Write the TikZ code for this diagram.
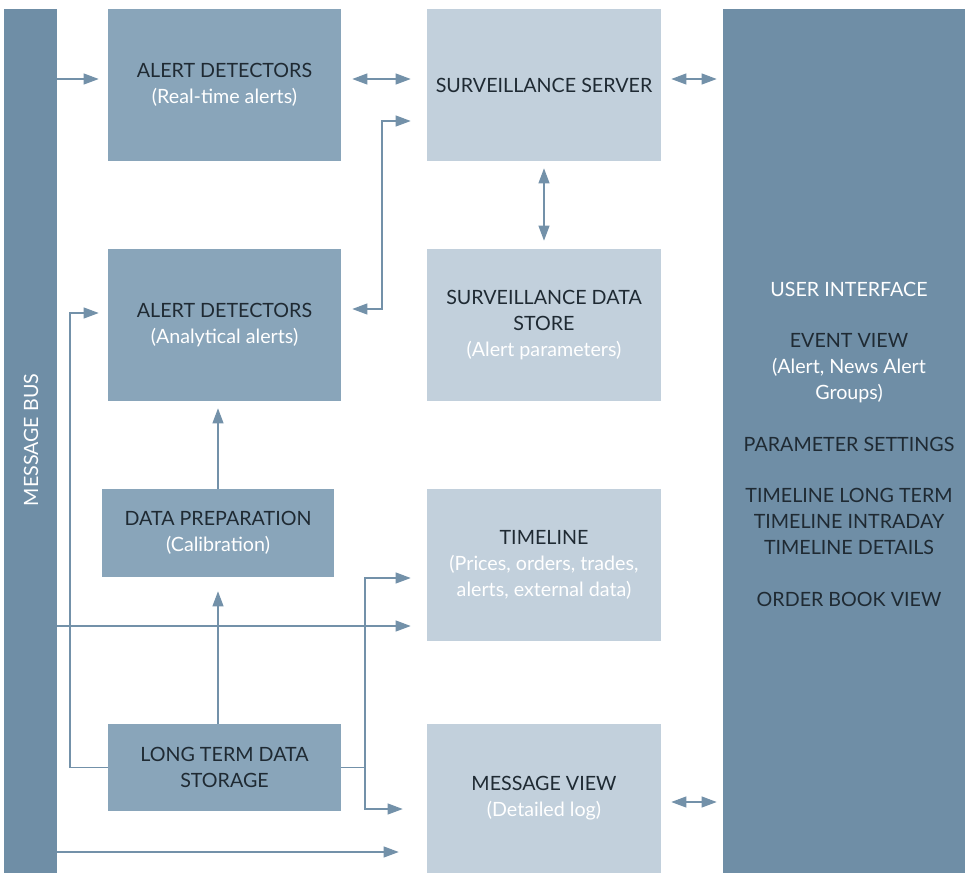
\documentclass[tikz,border=0pt]{standalone}
\usepackage{fontspec}
\setmainfont{Lato}
\usetikzlibrary{arrows.meta}
\definecolor{busblue}{HTML}{6F8EA6}
\definecolor{midblue}{HTML}{89A5BA}
\definecolor{paleblue}{HTML}{C2D0DC}
\definecolor{linkblue}{HTML}{7391A9}
\definecolor{inkdark}{HTML}{1F2A33}
\newcommand{\subline}[1]{\textcolor{white}{#1}}
\tikzset{
  boxtext/.style={align=center, text=inkdark, inner sep=0pt,
    font=\fontsize{11.2}{14.7}\selectfont},
  midbox/.style={boxtext, fill=midblue, minimum width=4.66cm, minimum height=3.04cm},
  palebox/.style={boxtext, fill=paleblue, minimum width=4.68cm, minimum height=3.04cm},
  arr/.style={draw=linkblue, line width=0.6pt,
    -{Triangle[length=0.3cm, width=0.22cm]}},
  biarr/.style={arr, {Triangle[length=0.3cm, width=0.22cm]}-{Triangle[length=0.3cm, width=0.22cm]}},
}
\begin{document}
\begin{tikzpicture}[x=0.02cm, y=-0.02cm]
  \useasboundingbox (0,0) rectangle (965,873);
  % --- Side bars ---
  \node[fill=busblue, minimum width=1.06cm, minimum height=17.28cm, inner sep=0pt] (bus) at (30.5,441) {};
  \node[boxtext, text=white, rotate=90] (buslabel) at (31,440) {MESSAGE BUS};
  \node[fill=busblue, minimum width=4.84cm, minimum height=17.28cm, inner sep=0pt] (ui) at (844,441) {};
  \node[boxtext] (uitext) at (849,444) {\subline{USER INTERFACE}\\[14.7pt]
    EVENT VIEW\\\subline{(Alert, News Alert}\\\subline{Groups)}\\[14.7pt]
    PARAMETER SETTINGS\\[14.7pt]
    TIMELINE LONG TERM\\TIMELINE INTRADAY\\TIMELINE DETAILS\\[14.7pt]
    ORDER BOOK VIEW};
  % --- Boxes ---
  \node[midbox] (adrt) at (224.5,85) {ALERT DETECTORS\\\subline{(Real-time alerts)}};
  \node[palebox] (ss) at (544,85) {SURVEILLANCE SERVER};
  \node[midbox] (ada) at (224.5,325) {ALERT DETECTORS\\\subline{(Analytical alerts)}};
  \node[palebox] (sds) at (544,325) {SURVEILLANCE DATA\\STORE\\\subline{(Alert parameters)}};
  \node[midbox, minimum width=4.64cm, minimum height=1.76cm] (dp) at (218,533) {DATA PREPARATION\\\subline{(Calibration)}};
  \node[palebox] (tl) at (544,565) {TIMELINE\\\subline{(Prices, orders, trades,}\\\subline{alerts, external data)}};
  \node[midbox, minimum height=1.74cm] (ltds) at (224.5,767.5) {LONG TERM DATA\\STORAGE};
  \node[palebox, minimum height=2.98cm] (mv) at (544,798.5) {MESSAGE VIEW\\\subline{(Detailed log)}};
  % --- Bend points ---
  \coordinate (kss) at (382,121);
  \coordinate (kada) at (70,313);
  \coordinate (ktl) at (365,578);
  \coordinate (kmv) at (365,809);
  % --- Connectors ---
  \draw[arr, shorten >=0.18cm] (bus.east |- 0,79) -- (adrt.west |- 0,79);
  \draw[biarr, shorten <=0.22cm, shorten >=0.32cm] (adrt.east |- 0,79) -- (ss.west |- 0,79);
  \draw[biarr, shorten <=0.2cm, shorten >=0.12cm] (ss.east |- 0,79) -- (ui.west |- 0,79);
  \draw[biarr, shorten <=0.22cm, shorten >=0.32cm] (ada.east |- 0,309) -| (kss) -- (ss.west |- kss);
  \draw[biarr, shorten <=0.14cm, shorten >=0.16cm] (ss.south) -- (sds.north);
  \draw[arr, shorten >=0.18cm] (ltds.west) -| (kada) -- (ada.west |- kada);
  \draw[arr, shorten >=0.14cm] (dp.north) -- (ada.south -| dp.north);
  \draw[arr, shorten >=0.28cm] (ltds.north -| dp.south) -- (dp.south);
  \draw[arr, shorten >=0.32cm] (bus.east |- 0,626) -- (tl.west |- 0,626);
  \draw[arr, shorten >=0.32cm] (ltds.east) -| (ktl) -- (tl.west |- ktl);
  \draw[arr, shorten >=0.48cm] (ltds.east) -| (kmv) -- (mv.west |- kmv);
  \draw[arr, shorten >=0.56cm] (bus.east |- 0,852) -- (mv.west |- 0,852);
  \draw[biarr, shorten <=0.2cm, shorten >=0.12cm] (mv.east |- 0,802) -- (ui.west |- 0,802);
\end{tikzpicture}
\end{document}
